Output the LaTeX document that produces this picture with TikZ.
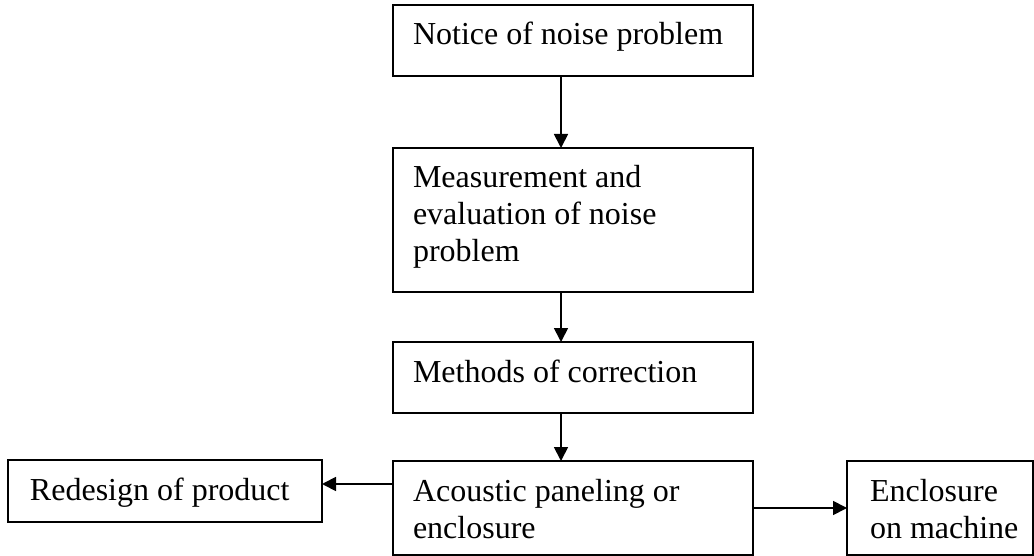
\documentclass[tikz,border=0pt]{standalone}
\usepackage{fontspec}
\setmainfont{Liberation Serif}
\usetikzlibrary{arrows.meta}
\tikzset{
  flowbox/.style={draw, line width=2.6pt, outer sep=0pt, inner xsep=20pt, inner ysep=0pt,
    anchor=north west, align=flush left, text height=40pt,
    font=\fontsize{32}{37}\selectfont},
  flowarrow/.style={->, line width=1.8pt},
}
\begin{document}
\begin{tikzpicture}[x=1pt, y=-1pt, >={Triangle[length=14pt,width=14pt]}]
  \useasboundingbox (0,0) rectangle (1034,556);
  % main column
  \node[flowbox, text width=320pt, text depth=31pt] (notice) at (393,5) {Notice of noise problem};
  \node[flowbox, text width=320pt, text depth=104pt] (measure) at (393,148) {Measurement and\\evaluation of noise\\problem};
  \node[flowbox, text width=320pt, text depth=31pt] (methods) at (393,342) {Methods of correction};
  \node[flowbox, text width=320pt, text depth=54pt] (acoustic) at (393,461) {Acoustic paneling or\\enclosure};
  % side boxes
  \node[flowbox, inner xsep=22pt, text width=270pt, text depth=22pt] (redesign) at (8,460) {Redesign of product};
  \node[flowbox, inner xsep=23pt, text width=140pt, text depth=54pt] (enclosure) at (847,461) {Enclosure\\\mbox{on machine}};
  % arrows
  \coordinate (col) at (561,0);
  \draw[flowarrow] (notice.south -| col) -- (measure.north -| col);
  \draw[flowarrow] (measure.south -| col) -- (methods.north -| col);
  \draw[flowarrow] (methods.south -| col) -- (acoustic.north -| col);
  \draw[flowarrow] ([yshift=24pt]acoustic.west) -- ([yshift=24pt]acoustic.west -| redesign.east);
  \draw[flowarrow] (acoustic.east) -- (enclosure.west);
\end{tikzpicture}
\end{document}
